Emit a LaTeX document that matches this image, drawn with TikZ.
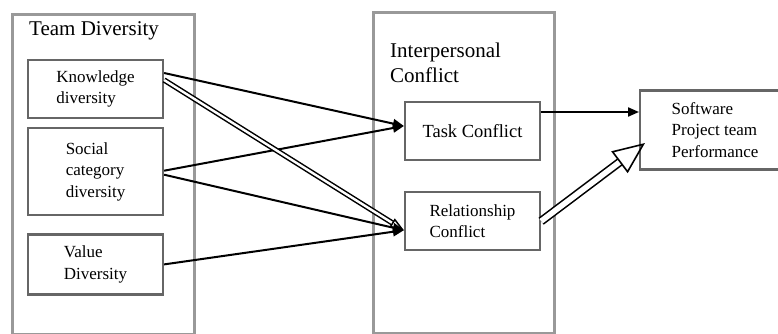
\documentclass[tikz,border=0pt]{standalone}
\usepackage{fontspec}
\setmainfont{Liberation Serif}
\usetikzlibrary{positioning,arrows.meta}

\begin{document}
\begin{tikzpicture}[x=1pt, y=-1pt,
panel/.style={draw=black!40, line width=2.6pt, anchor=north west, inner sep=0pt},
box/.style={draw=black!60, line width=2.2pt, minimum width=135pt, align=left, inner sep=2pt, font=\fontsize{17}{21.5}\selectfont},
heading/.style={anchor=north west, align=left, inner sep=0pt, font=\fontsize{21}{25}\selectfont},
link/.style={line width=2pt, -{Triangle[length=11pt, width=9pt]}},
thinhollow/.style={line width=1.5pt, double=white, double distance=2.4pt, -{Triangle[open, length=14pt, width=10pt, line width=1.5pt]}},
bighollow/.style={line width=1.6pt, double=white, double distance=5.5pt, -{Triangle[open, length=32pt, width=27pt, line width=1.6pt]}}
]
\useasboundingbox (0,0) rectangle (778,334);
%Panels
\node[panel, minimum width=182pt, minimum height=320pt] (team)     at (11,13)  {};
\node[panel, minimum width=181pt, minimum height=321pt] (conflict) at (372,11) {};
\node[heading] (teamtitle)     at (29,21) {Team Diversity};
\node[heading] (conflicttitle) at (390,43) {Interpersonal\\Conflict};
%Nodes
\node[box, minimum height=58pt]  (know)   at (95.5,89)            {Knowledge\\diversity};
\node[box, minimum height=87pt]  (social) [below=8pt of know]     {Social\\category\\diversity};
\node[box, minimum height=60pt]  (value)  [below=17pt of social]  {Value\\Diversity};
\node[box, minimum height=58pt, font=\fontsize{18.5}{22}\selectfont] (task) at (472.5,131) {Task Conflict};
\node[box, minimum height=58pt]  (rel)    [below=30pt of task]    {Relationship\\Conflict};
\node[box, minimum height=79pt, minimum width=150pt, anchor=west] (perf) at (639,130) {Software\\Project team\\Performance};
%Lines
\draw[link] ([yshift=16pt]know.east) -- ([yshift=5pt]task.west);
\draw[link] ([yshift=1pt]social.east) -- ([yshift=5pt]task.west);
\draw[link] ([yshift=-3pt]social.east) -- ([yshift=-9pt]rel.west);
\draw[link] (value.east) -- ([yshift=-9pt]rel.west);
\draw[thinhollow] ([yshift=9pt]know.east) -- ([yshift=-9pt]rel.west);
\draw[link] ([yshift=19pt]task.east) -- ([yshift=19pt]task.east -| perf.west);
\draw[bighollow] (rel.east) -- ([xshift=6pt, yshift=-13pt]perf.west);
\end{tikzpicture}
\end{document}
